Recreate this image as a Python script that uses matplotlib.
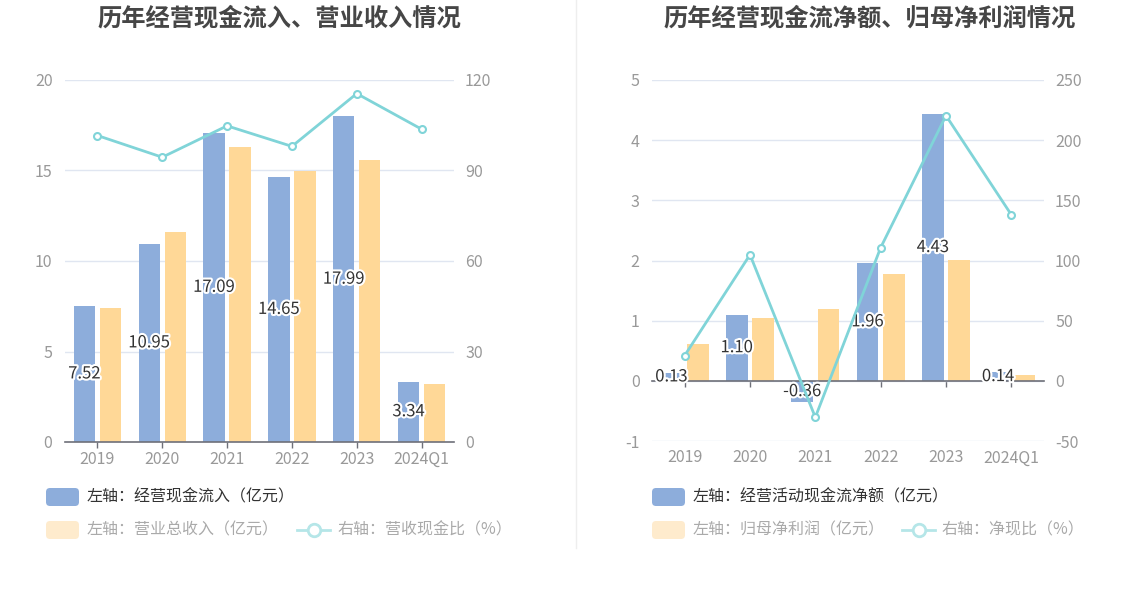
import matplotlib
matplotlib.use('Agg')
import matplotlib.pyplot as plt
import matplotlib.patheffects as pe
from matplotlib.patches import FancyBboxPatch
from matplotlib.lines import Line2D
from matplotlib.transforms import IdentityTransform

plt.rcParams['font.family'] = ['Noto Sans CJK SC', 'DejaVu Sans']

categories = ['2019', '2020', '2021', '2022', '2023', '2024Q1']

# Left panel
cash_inflow = [7.52, 10.95, 17.09, 14.65, 17.99, 3.34]
revenue = [7.40, 11.60, 16.30, 14.95, 15.58, 3.22]
cash_ratio = [101.6, 94.4, 104.8, 98.0, 115.5, 103.7]

# Right panel
net_cash_flow = [0.13, 1.10, -0.36, 1.96, 4.43, 0.14]
net_profit = [0.62, 1.05, 1.19, 1.77, 2.01, 0.10]
net_ratio = [21.0, 104.8, -30.3, 110.7, 220.4, 138.0]

titles = ['历年经营现金流入、营业收入情况', '历年经营现金流净额、归母净利润情况']
legend_left = ['左轴：经营现金流入（亿元）', '左轴：营业总收入（亿元）', '右轴：营收现金比（%）']
legend_right = ['左轴：经营活动现金流净额（亿元）', '左轴：归母净利润（亿元）', '右轴：净现比（%）']

BLUE = '#8DADDB'
YELLOW = '#FFD897'
TEAL = '#80D4D8'
GRID = '#E0E6F1'
AXIS = '#6E7079'
TICK = '#999999'

W, H = 1148, 589
fig = plt.figure(figsize=(W / 100, H / 100), dpi=100)
fig.patch.set_facecolor('white')


def px_rect(x0, y0, x1, y1):
    return [x0 / W, 1 - y1 / H, (x1 - x0) / W, (y1 - y0) / H]


def panel(rect, bars1, bars2, line, ylim, yticks, y2lim, y2ticks):
    ax = fig.add_axes(rect)
    x = list(range(len(categories)))
    bw = 0.33
    c1 = ax.bar([i - 0.2 for i in x], bars1, width=bw, color=BLUE, zorder=2)
    ax.bar([i + 0.2 for i in x], bars2, width=bw, color=YELLOW, zorder=2)
    ax.set_xlim(-0.5, len(categories) - 0.5)
    ax.set_ylim(*ylim)
    ax.set_yticks(yticks)
    ax.set_yticklabels([f'{t:g}' for t in yticks])
    ax.yaxis.grid(True, color=GRID, lw=1)
    ax.set_axisbelow(True)
    for s in ['top', 'left', 'right']:
        ax.spines[s].set_visible(False)
    ax.spines['bottom'].set_position(('data', 0))
    ax.spines['bottom'].set_color(AXIS)
    ax.spines['bottom'].set_linewidth(1.2)
    ax.set_xticks(x)
    ax.tick_params(axis='x', length=4, width=1, color=AXIS, labelbottom=False)
    ax.tick_params(axis='y', length=0, pad=9, labelcolor=TICK, labelsize=11.5)
    for i, c in enumerate(categories):
        ax.text(i, -0.047, c, transform=ax.get_xaxis_transform(), ha='center',
                va='center', color=TICK, fontsize=11.5)
    ax.bar_label(c1, labels=[f'{v:.2f}' for v in bars1], label_type='center',
                 color='#333333', fontsize=12,
                 path_effects=[pe.withStroke(linewidth=3, foreground='white')])
    ax2 = ax.twinx()
    ax2.set_ylim(*y2lim)
    ax2.set_yticks(y2ticks)
    ax2.set_yticklabels([f'{t:g}' for t in y2ticks])
    for s in ax2.spines.values():
        s.set_visible(False)
    ax2.tick_params(axis='y', length=0, pad=8, labelcolor=TICK, labelsize=11.5)
    ax2.plot(x, line, color=TEAL, lw=2, marker='o', markersize=5,
             markerfacecolor='white', markeredgecolor=TEAL, markeredgewidth=1.5,
             zorder=3)
    return ax, ax2


panel(px_rect(65, 80, 454, 442), cash_inflow, revenue, cash_ratio,
      (0, 20), [0, 5, 10, 15, 20], (0, 120), [0, 30, 60, 90, 120])
panel(px_rect(652, 80, 1044, 441), net_cash_flow, net_profit, net_ratio,
      (-1, 5), [-1, 0, 1, 2, 3, 4, 5], (-50, 250), [-50, 0, 50, 100, 150, 200, 250])

# Titles
fig.text(279.5 / W, 1 - 18 / H, titles[0], ha='center', va='center',
         fontsize=17.5, fontweight='bold', color='#464646')
fig.text(869.5 / W, 1 - 18 / H, titles[1], ha='center', va='center',
         fontsize=17.5, fontweight='bold', color='#464646')

# Divider
fig.add_artist(Line2D([576 / W, 576 / W], [1, 1 - 548 / H], color='#EEEEEE', lw=1))

ident = IdentityTransform()


def legend(px0, texts, line_x0, line_text_x):
    # row 1
    fig.add_artist(FancyBboxPatch((px0, H - 506), 33, 18,
                                  boxstyle='round,pad=0,rounding_size=4',
                                  transform=ident, facecolor=BLUE, edgecolor='none'))
    fig.text((px0 + 41) / W, 1 - 497 / H, texts[0], ha='left', va='center',
             fontsize=11.5, color='#333333')
    # row 2
    fig.add_artist(FancyBboxPatch((px0, H - 539), 33, 18,
                                  boxstyle='round,pad=0,rounding_size=4',
                                  transform=ident, facecolor='#FEEBCD', edgecolor='none'))
    fig.text((px0 + 41) / W, 1 - 530 / H, texts[1], ha='left', va='center',
             fontsize=11.5, color='#AAAAAA')
    fig.add_artist(Line2D([line_x0, line_x0 + 33], [H - 530, H - 530], transform=ident,
                          color='#B5E6E8', lw=2))
    fig.add_artist(Line2D([line_x0 + 16.5], [H - 530], transform=ident, marker='o',
                          markersize=9, markerfacecolor='white', markeredgecolor='#B5E6E8',
                          markeredgewidth=2))
    fig.text(line_text_x / W, 1 - 530 / H, texts[2], ha='left', va='center',
             fontsize=11.5, color='#AAAAAA')


legend(46, legend_left, 297, 337)
legend(652, legend_right, 902, 942)

fig.savefig('out.png', dpi=100, facecolor='white')
